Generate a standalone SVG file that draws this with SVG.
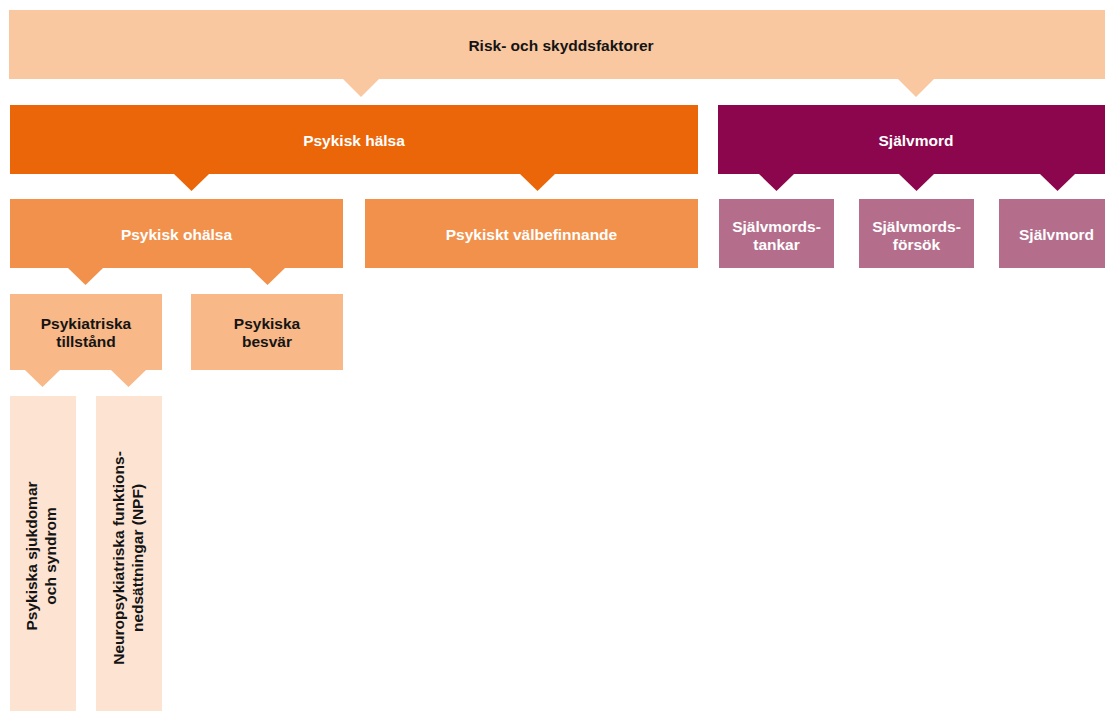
<svg xmlns="http://www.w3.org/2000/svg" width="1105" height="711" viewBox="0 0 1105 711">
<style>
text{font-family:"Liberation Sans",Arial,sans-serif;font-weight:bold;font-size:15.5px;text-anchor:middle}
.w{fill:#ffffff}
.k{fill:#141414}
.c0{fill:#FAC8A0}
.c1{fill:#EB6608}
.c2{fill:#8B064C}
.c3{fill:#F2914C}
.c4{fill:#B46E8C}
.c5{fill:#F8B888}
.c6{fill:#FCE3D2}
</style>
<rect width="1105" height="711" fill="#ffffff"/>
<g id="connectors">
<polygon class="c0" points="343,79 379,79 361,97"/>
<polygon class="c0" points="898,79 934,79 916,97"/>
<polygon class="c1" points="174,174 209,174 191.5,191"/>
<polygon class="c1" points="520,174 555,174 537.5,191"/>
<polygon class="c2" points="759,174 794,174 776.5,191"/>
<polygon class="c2" points="899,174 934,174 916.5,191"/>
<polygon class="c2" points="1040,174 1075,174 1057.5,191"/>
<polygon class="c3" points="68,268 103,268 85.5,285"/>
<polygon class="c3" points="250,268 285,268 267.5,285"/>
<polygon class="c5" points="25,370 60,370 42.5,387"/>
<polygon class="c5" points="111,370 146,370 128.5,387"/>
</g>
<g id="risk"><rect class="c0" x="9" y="10" width="1105" height="69"/><text class="k" x="561" y="51">Risk- och skyddsfaktorer</text></g>
<g id="psykisk-halsa"><rect class="c1" x="10" y="105" width="688" height="69"/><text class="w" x="354" y="146">Psykisk hälsa</text></g>
<g id="sjalvmord-top"><rect class="c2" x="718" y="105" width="396" height="69"/><text class="w" x="916" y="146">Självmord</text></g>
<g id="psykisk-ohalsa"><rect class="c3" x="10" y="199" width="333" height="69"/><text class="w" x="176.5" y="240">Psykisk ohälsa</text></g>
<g id="valbefinnande"><rect class="c3" x="365" y="199" width="333" height="69"/><text class="w" x="531.5" y="240">Psykiskt välbefinnande</text></g>
<g id="tankar"><rect class="c4" x="719" y="199" width="115" height="69"/><text class="w" x="776.5" y="232">Självmords-<tspan x="776.5" y="250">tankar</tspan></text></g>
<g id="forsok"><rect class="c4" x="859" y="199" width="115" height="69"/><text class="w" x="916.5" y="232">Självmords-<tspan x="916.5" y="250">försök</tspan></text></g>
<g id="sjalvmord"><rect class="c4" x="999" y="199" width="115" height="69"/><text class="w" x="1056.5" y="240">Självmord</text></g>
<g id="tillstand"><rect class="c5" x="10" y="294" width="152" height="76"/><text class="k" x="86" y="329">Psykiatriska<tspan x="86" y="347">tillstånd</tspan></text></g>
<g id="besvar"><rect class="c5" x="191" y="294" width="152" height="76"/><text class="k" x="267" y="329">Psykiska<tspan x="267" y="347">besvär</tspan></text></g>
<g id="sjukdomar"><rect class="c6" x="10" y="396" width="66" height="315"/><text class="k" transform="translate(43,556) rotate(-90)" x="0" y="-6">Psykiska sjukdomar<tspan x="0" y="13">och syndrom</tspan></text></g>
<g id="npf"><rect class="c6" x="96" y="396" width="66" height="315"/><text class="k" transform="translate(129,558) rotate(-90)" x="0" y="-5">Neuropsykiatriska funktions-<tspan x="0" y="14">nedsättningar (NPF)</tspan></text></g>
</svg>
